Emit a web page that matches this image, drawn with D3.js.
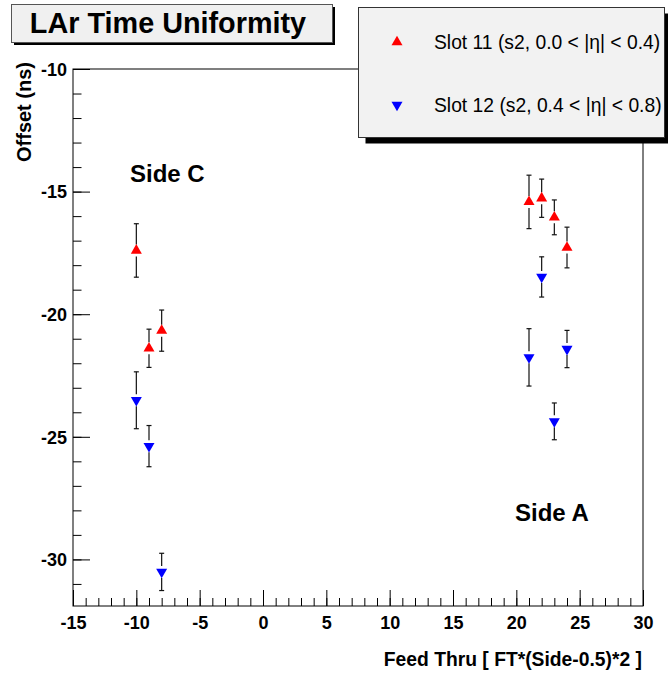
<!DOCTYPE html>
<html>
<head>
<meta charset="utf-8">
<script src="https://cdn.jsdelivr.net/npm/d3@7"></script>
<style>
  html, body { margin: 0; padding: 0; background: #fff; }
  svg { display: block; font-family: "Liberation Sans", Arial, Helvetica, sans-serif; }
</style>
</head>
<body>
<svg id="chart" width="668" height="675"></svg>
<script>
// ---- data ----
const feedThru = [-10, -9, -8, 21, 22, 23, 24];
const slot11 = [-17.40, -21.39, -20.67, -15.42, -15.27, -16.05, -17.28];
const slot11Err = [1.09, 0.78, 0.84, 1.09, 0.78, 0.71, 0.83];
const slot12 = [-23.51, -25.38, -30.51, -21.76, -18.48, -24.37, -21.42];
const slot12Err = [1.16, 0.84, 0.76, 1.17, 0.82, 0.75, 0.76];
const seriesNames = ["Slot 11 (s2, 0.0 < |\u03B7| < 0.4)", "Slot 12 (s2, 0.4 < |\u03B7| < 0.8)"];
const xMajorTicks = [-15, -10, -5, 0, 5, 10, 15, 20, 25, 30];
const yMajorTicks = [-30, -25, -20, -15, -10];
const xDomain = [-15, 30];
const yDomain = [-31.9, -10];

const svg = d3.select("#chart");
const frame = { left: 73, right: 643, top: 69, bottom: 606 };

const x = d3.scaleLinear().domain(xDomain).range([frame.left, frame.right]);
const y = d3.scaleLinear().domain(yDomain).range([frame.bottom, frame.top]);

// frame
svg.append("rect")
  .attr("x", frame.left).attr("y", frame.top)
  .attr("width", frame.right - frame.left).attr("height", frame.bottom - frame.top)
  .attr("fill", "none").attr("stroke", "#000").attr("stroke-width", 1);

// axes
const xMinor = d3.range(xDomain[0], xDomain[1] + 0.001, 1);
const yMinor = d3.range(-31, -9.999, 1);
const fmt = d => String(d);

const gxMinor = svg.append("g").attr("transform", `translate(0,${frame.bottom})`)
  .call(d3.axisBottom(x).tickValues(xMinor).tickSize(-8).tickFormat(""));
const gx = svg.append("g").attr("transform", `translate(0,${frame.bottom})`)
  .call(d3.axisBottom(x).tickValues(xMajorTicks).tickSize(-16).tickPadding(10).tickFormat(fmt));
const gyMinor = svg.append("g").attr("transform", `translate(${frame.left},0)`)
  .call(d3.axisLeft(y).tickValues(yMinor).tickSize(-8.5).tickFormat(""));
const gy = svg.append("g").attr("transform", `translate(${frame.left},0)`)
  .call(d3.axisLeft(y).tickValues(yMajorTicks).tickSize(-17).tickPadding(6).tickFormat(fmt));

[gxMinor, gx, gyMinor, gy].forEach(g => {
  g.select(".domain").remove();
  g.selectAll("line").attr("stroke", "#000");
  g.selectAll("text").attr("fill", "#000")
    .style("font-family", '"Liberation Sans", Arial, Helvetica, sans-serif')
    .style("font-weight", "bold").style("font-size", "18px");
});
gx.selectAll("text").attr("dy", "0.71em");
gy.selectAll("text").attr("dy", "0.35em");

// axis titles
svg.append("text")
  .attr("x", frame.right - 1).attr("y", 666)
  .attr("text-anchor", "end")
  .style("font-weight", "bold").style("font-size", "19.3px")
  .text("Feed Thru [ FT*(Side-0.5)*2 ]");

svg.append("text")
  .attr("transform", `translate(31,62) rotate(-90)`)
  .attr("text-anchor", "end")
  .style("font-weight", "bold").style("font-size", "20px")
  .text("Offset (ns)");

// markers
const tri = 11;
const upPath = d3.symbol().type(d3.symbolTriangle).size(tri * tri * 0.433)();
function drawSeries(vals, errs, color, down) {
  const g = svg.append("g");
  feedThru.forEach((fx, i) => {
    const cx = x(fx), cy = y(vals[i]);
    const yTop = y(vals[i] + errs[i]), yBot = y(vals[i] - errs[i]);
    const gap = 6;
    g.append("line").attr("x1", cx).attr("x2", cx).attr("y1", yTop).attr("y2", cy - gap)
      .attr("stroke", "#111").attr("stroke-width", 1.2);
    g.append("line").attr("x1", cx).attr("x2", cx).attr("y1", cy + gap).attr("y2", yBot)
      .attr("stroke", "#111").attr("stroke-width", 1.2);
    [yTop, yBot].forEach(yy => g.append("line")
      .attr("x1", cx - 2.5).attr("x2", cx + 2.5).attr("y1", yy).attr("y2", yy)
      .attr("stroke", "#111").attr("stroke-width", 1.2));
    g.append("path").attr("d", upPath)
      .attr("transform", `translate(${cx},${cy})${down ? " rotate(180)" : ""}`)
      .attr("fill", color);
  });
}
drawSeries(slot11, slot11Err, "#ff0000", false);
drawSeries(slot12, slot12Err, "#0000ff", true);

// side labels
svg.append("text").attr("x", 130).attr("y", 182)
  .style("font-weight", "bold").style("font-size", "24px").text("Side C");
svg.append("text").attr("x", 515).attr("y", 521)
  .style("font-weight", "bold").style("font-size", "24px").text("Side A");

// title box
svg.append("rect").attr("x", 14).attr("y", 7).attr("width", 321).attr("height", 38).attr("fill", "#000");
svg.append("rect").attr("x", 11.5).attr("y", 4.5).attr("width", 321).attr("height", 38)
  .attr("fill", "#f0f0f0").attr("stroke", "#555").attr("stroke-width", 1);
svg.append("text").attr("x", 168).attr("y", 33).attr("text-anchor", "middle")
  .style("font-weight", "bold").style("font-size", "28.8px").text("LAr Time Uniformity");

// legend box
const lg = { x: 358.5, y: 7.5, w: 306, h: 130 };
svg.append("rect").attr("x", lg.x + 7).attr("y", lg.y + 6).attr("width", lg.w).attr("height", lg.h).attr("fill", "#000");
svg.append("rect").attr("x", lg.x).attr("y", lg.y).attr("width", lg.w).attr("height", lg.h)
  .attr("fill", "#f2f2f2").attr("stroke", "#333").attr("stroke-width", 1);
const legendColors = ["#ff0000", "#0000ff"];
const legendY = [42, 105];
seriesNames.forEach((name, i) => {
  svg.append("path").attr("d", upPath)
    .attr("transform", `translate(397,${legendY[i]})${i === 1 ? " rotate(180)" : ""}`)
    .attr("fill", legendColors[i]);
  svg.append("text").attr("x", 434).attr("y", legendY[i] + 7)
    .style("font-size", "19.3px").text(name);
});
</script>
</body>
</html>
